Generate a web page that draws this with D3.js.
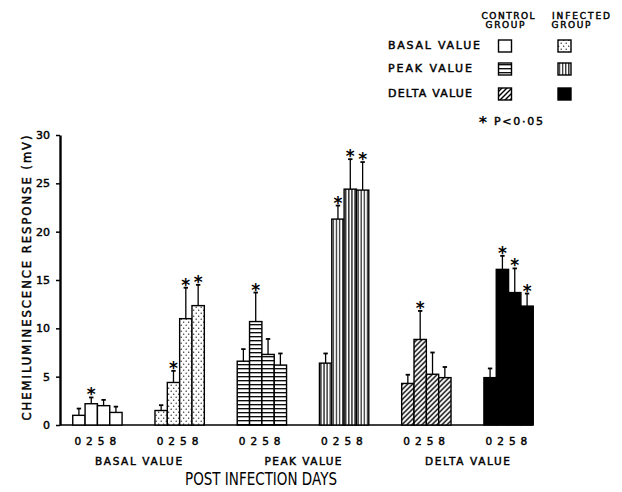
<!DOCTYPE html>
<html>
<head>
<meta charset="utf-8">
<script src="https://cdn.jsdelivr.net/npm/d3@7"></script>
<style>
  html, body { margin: 0; padding: 0; background: #fff; }
  svg { display: block; }
  text { font-family: "DejaVu Sans", sans-serif; fill: #000; }
  text.med { stroke: #000; stroke-width: 0.45px; }
</style>
</head>
<body>
<svg id="chart" width="622" height="492"></svg>
<script>
// ---- data ----
const days = ["0", "2", "5", "8"];
const categories = ["BASAL VALUE", "PEAK VALUE", "DELTA VALUE"];
const groupNames = ["CONTROL GROUP", "INFECTED GROUP"];
const yTicks = [0, 5, 10, 15, 20, 25, 30];

const basalControl   = [1.0, 2.2, 2.0, 1.3];
const basalControlErr = [0.7, 0.65, 0.6, 0.6];
const basalInfected  = [1.5, 4.4, 11.0, 12.35];
const basalInfectedErr = [0.55, 1.2, 3.2, 2.15];
const peakControl    = [6.6, 10.7, 7.3, 6.2];
const peakControlErr = [1.25, 3.0, 1.6, 1.2];
const peakInfected   = [6.4, 21.3, 24.4, 24.3];
const peakInfectedErr = [1.0, 1.4, 3.1, 2.9];
const deltaControl   = [4.3, 8.85, 5.25, 4.9];
const deltaControlErr = [0.9, 2.95, 2.25, 1.1];
const deltaInfected  = [4.9, 16.1, 13.7, 12.3];
const deltaInfectedErr = [0.95, 1.4, 2.5, 1.3];

const sigBasalControl   = [0, 1, 0, 0];
const sigBasalInfected  = [0, 1, 1, 1];
const sigPeakControl    = [0, 1, 0, 0];
const sigPeakInfected   = [0, 1, 1, 1];
const sigDeltaControl   = [0, 1, 0, 0];
const sigDeltaInfected  = [0, 1, 1, 1];

// table built from arrays
const series = [
  {key: "bc", cat: 0, grp: 0, fill: "url(#pWhite)",  vals: basalControl,  err: basalControlErr,  sig: sigBasalControl},
  {key: "bi", cat: 0, grp: 1, fill: "url(#pDots)",   vals: basalInfected, err: basalInfectedErr, sig: sigBasalInfected},
  {key: "pc", cat: 1, grp: 0, fill: "url(#pHoriz)",  vals: peakControl,   err: peakControlErr,   sig: sigPeakControl},
  {key: "pi", cat: 1, grp: 1, fill: "url(#pVert)",   vals: peakInfected,  err: peakInfectedErr,  sig: sigPeakInfected},
  {key: "dc", cat: 2, grp: 0, fill: "url(#pDiag)",   vals: deltaControl,  err: deltaControlErr,  sig: sigDeltaControl},
  {key: "di", cat: 2, grp: 1, fill: "#000",          vals: deltaInfected, err: deltaInfectedErr, sig: sigDeltaInfected}
];

// ---- layout ----
const svg = d3.select("#chart");
const x0 = d3.scaleBand().domain(series.map(s => s.key)).range([60, 546]).paddingInner(0.4).paddingOuter(0.155);
const x1 = d3.scaleBand().domain(days).range([0, x0.bandwidth()]);
const xLab = d3.scalePoint().domain(days).range([5, 40]);
const y = d3.scaleLinear().domain([0, 30]).range([425, 135]);

// ---- patterns ----
const defs = svg.append("defs");
defs.append("pattern").attr("id", "pWhite").attr("patternUnits", "userSpaceOnUse")
  .attr("width", 4).attr("height", 4)
  .append("rect").attr("width", 4).attr("height", 4).attr("fill", "#fff");
const pd = defs.append("pattern").attr("id", "pDots").attr("patternUnits", "userSpaceOnUse")
  .attr("width", 5).attr("height", 6);
pd.append("rect").attr("width", 5).attr("height", 6).attr("fill", "#fff");
pd.append("circle").attr("cx", 1.2).attr("cy", 1.2).attr("r", 0.65).attr("fill", "#000");
pd.append("circle").attr("cx", 3.7).attr("cy", 4.2).attr("r", 0.65).attr("fill", "#000");
const ph = defs.append("pattern").attr("id", "pHoriz").attr("patternUnits", "userSpaceOnUse")
  .attr("width", 4).attr("height", 4);
ph.append("rect").attr("width", 4).attr("height", 4).attr("fill", "#fff");
ph.append("line").attr("x1", 0).attr("x2", 4).attr("y1", 0.7).attr("y2", 0.7).attr("stroke", "#000").attr("stroke-width", 1.3);
const pv = defs.append("pattern").attr("id", "pVert").attr("patternUnits", "userSpaceOnUse")
  .attr("width", 3.1).attr("height", 4);
pv.append("rect").attr("width", 3.1).attr("height", 4).attr("fill", "#fff");
pv.append("line").attr("y1", 0).attr("y2", 4).attr("x1", 1.5).attr("x2", 1.5).attr("stroke", "#000").attr("stroke-width", 1.1);
const pg = defs.append("pattern").attr("id", "pDiag").attr("patternUnits", "userSpaceOnUse")
  .attr("width", 5).attr("height", 5);
pg.append("rect").attr("width", 5).attr("height", 5).attr("fill", "#fff");
pg.append("path").attr("d", "M-1,1 L1,-1 M0,5 L5,0 M4,6 L6,4").attr("stroke", "#000").attr("stroke-width", 1.4);

// ---- axes ----
const yAxis = d3.axisLeft(y).tickValues(yTicks).tickSize(4).tickSizeOuter(0).tickPadding(6);
const ga = svg.append("g").attr("transform", "translate(60,0)").call(yAxis);
ga.select(".domain").attr("stroke-width", 2.4);
ga.selectAll(".tick line").attr("stroke-width", 1.5);
ga.selectAll(".tick text").attr("class", "med").style("font-size", "11px").attr("font-family", "DejaVu Sans");

svg.append("line").attr("x1", 60).attr("x2", 533).attr("y1", y(0)).attr("y2", y(0))
  .attr("stroke", "#000").attr("stroke-width", 1.6);

svg.append("text").attr("class", "med")
  .attr("transform", `translate(31,${(y(0) + y(30)) / 2 - 2}) rotate(-90)`)
  .attr("text-anchor", "middle")
  .attr("textLength", 285).attr("lengthAdjust", "spacing")
  .style("font-size", "11.5px")
  .text("CHEMILUMINESCENCE  RESPONSE  (mV)");

// ---- bars ----
const gs = svg.selectAll("g.series").data(series).join("g")
  .attr("class", "series")
  .attr("transform", d => `translate(${x0(d.key)},0)`);

const items = gs.selectAll("g.item").data(d => days.map((day, i) => ({day, v: d.vals[i], e: d.err[i], s: d.sig[i], fill: d.fill})))
  .join("g").attr("class", "item");

items.append("rect")
  .attr("x", d => x1(d.day))
  .attr("width", x1.bandwidth())
  .attr("y", d => y(d.v))
  .attr("height", d => y(0) - y(d.v))
  .attr("fill", d => d.fill)
  .attr("stroke", "#000").attr("stroke-width", 1.4);

items.append("line")
  .attr("x1", d => x1(d.day) + x1.bandwidth() / 2).attr("x2", d => x1(d.day) + x1.bandwidth() / 2)
  .attr("y1", d => y(d.v)).attr("y2", d => y(d.v + d.e))
  .attr("stroke", "#000").attr("stroke-width", 1.3);
items.append("line")
  .attr("x1", d => x1(d.day) + x1.bandwidth() / 2 - 2.2).attr("x2", d => x1(d.day) + x1.bandwidth() / 2 + 2.2)
  .attr("y1", d => y(d.v + d.e)).attr("y2", d => y(d.v + d.e))
  .attr("stroke", "#000").attr("stroke-width", 1.8);

items.filter(d => d.s).append("text")
  .attr("x", d => x1(d.day) + x1.bandwidth() / 2)
  .attr("y", d => y(d.v + d.e) + 3)
  .attr("text-anchor", "middle")
  .style("font-size", "17px").style("font-weight", "bold")
  .text("*");

// day labels
gs.selectAll("text.day").data(days).join("text").attr("class", "day med")
  .attr("x", d => xLab(d)).attr("y", 445)
  .attr("text-anchor", "middle")
  .style("font-size", "10.5px")
  .text(d => d);

// category labels
svg.selectAll("text.cat").data(categories).join("text").attr("class", "cat med")
  .attr("x", (d, i) => {
    const a = series.find(s => s.cat === i && s.grp === 0).key;
    const b = series.find(s => s.cat === i && s.grp === 1).key;
    return (x0(a) + x0(b) + x0.bandwidth()) / 2;
  })
  .attr("y", 465)
  .attr("text-anchor", "middle")
  .attr("textLength", (d, i) => [87, 77, 85][i]).attr("lengthAdjust", "spacing")
  .style("font-size", "10.5px")
  .text(d => d);

svg.append("text").attr("x", 261).attr("y", 485).attr("text-anchor", "middle")
  .attr("textLength", 152).attr("lengthAdjust", "spacingAndGlyphs")
  .style("font-size", "17px")
  .text("POST INFECTION DAYS");

// ---- legend ----
const lg = svg.append("g");
const headX = [508, 581];
groupNames.forEach((g, i) => {
  const parts = g.split(" ");
  lg.append("text").attr("class", "med").attr("x", headX[i]).attr("y", 18.5).attr("text-anchor", "middle")
    .attr("textLength", [53, 58][i]).attr("lengthAdjust", "spacing")
    .style("font-size", "9px").text(parts[0]);
  lg.append("text").attr("class", "med").attr("x", [505, 571][i]).attr("y", 28).attr("text-anchor", "middle")
    .attr("textLength", 39).attr("lengthAdjust", "spacing")
    .style("font-size", "9px").text(parts[1]);
});
const rowY = [40, 63, 88];
categories.forEach((c, i) => {
  lg.append("text").attr("class", "med").attr("x", 388).attr("y", rowY[i] + 8.5)
    .attr("textLength", [92, 84, 84][i]).attr("lengthAdjust", "spacing")
    .style("font-size", "11px").text(c);
  [0, 1].forEach(g => {
    const s = series.find(t => t.cat === i && t.grp === g);
    lg.append("rect").attr("x", [498.5, 558][g]).attr("y", rowY[i]).attr("width", 13).attr("height", 12)
      .attr("fill", s.fill).attr("stroke", "#000").attr("stroke-width", 1.4);
  });
});
lg.append("text").attr("x", 483).attr("y", 128).attr("text-anchor", "middle")
  .style("font-size", "16px").style("font-weight", "bold").text("*");
lg.append("text").attr("class", "med").attr("x", 494).attr("y", 125)
  .attr("textLength", 49).attr("lengthAdjust", "spacing")
  .style("font-size", "11px").text("P<0·05");
</script>
</body>
</html>
